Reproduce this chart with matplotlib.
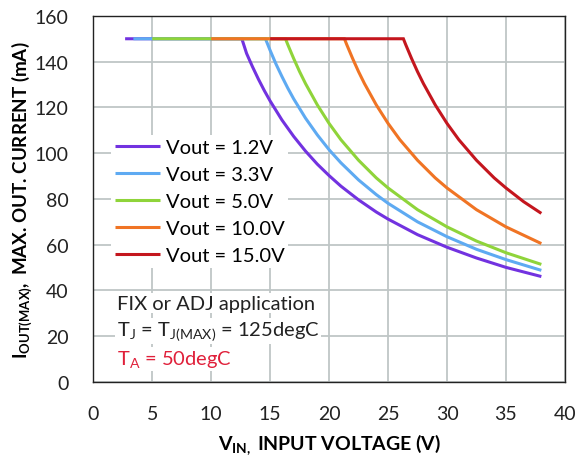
import matplotlib
matplotlib.use("Agg")
import matplotlib.pyplot as plt

plt.rcParams['font.family'] = ['Lato', 'DejaVu Sans']
plt.rcParams['mathtext.fontset'] = 'custom'
plt.rcParams['mathtext.rm'] = 'Lato'
plt.rcParams['mathtext.it'] = 'Lato'
plt.rcParams['mathtext.bf'] = 'Lato:bold'

labels = ["Vout = 1.2V", "Vout = 3.3V", "Vout = 5.0V", "Vout = 10.0V", "Vout = 15.0V"]
colors = ["#7232e0", "#5eaaf2", "#8fd43a", "#f07424", "#c4161e"]

vin_12 = [2.7, 12.6, 13.0, 13.5, 14.0, 14.5, 15.0, 16.0, 17.0, 18.0, 19.0, 20.0, 21.0,
          22.5, 24.0, 25.0, 27.5, 30.0, 32.5, 35.0, 38.0]
iout_12 = [150, 150, 143.6, 137.8, 132.4, 127.4, 122.8, 114.5, 107.3, 100.9, 95.2, 90.2, 85.6,
           79.6, 74.3, 71.2, 64.4, 58.9, 54.2, 50.1, 46.1]

vin_33 = [3.4, 14.6, 15.0, 15.5, 16.0, 16.5, 17.0, 18.0, 19.0, 20.0, 21.0, 22.5, 24.0,
          25.0, 27.5, 30.0, 32.5, 35.0, 38.0]
iout_33 = [150, 150, 144.9, 138.9, 133.5, 128.4, 123.7, 115.3, 108.0, 101.5, 95.8, 88.3, 81.9,
           78.1, 70.0, 63.5, 58.0, 53.5, 48.8]

vin_50 = [5.0, 16.3, 16.5, 17.0, 17.5, 18.0, 19.0, 20.0, 21.0, 22.5, 24.0, 25.0, 27.5,
          30.0, 32.5, 35.0, 38.0]
iout_50 = [150, 150, 147.4, 141.3, 135.6, 130.4, 121.1, 113.0, 105.9, 96.9, 89.2, 84.8, 75.3,
           67.8, 61.6, 56.5, 51.4]

vin_100 = [10.0, 21.3, 21.5, 22.0, 22.5, 23.0, 24.0, 25.0, 26.0, 27.5, 29.0, 30.0, 32.5,
           35.0, 38.0]
iout_100 = [150, 150, 147.4, 141.3, 135.6, 130.4, 121.1, 113.0, 105.9, 96.9, 89.2, 84.8, 75.3,
            67.8, 60.5]

vin_150 = [15.0, 26.3, 26.5, 27.0, 27.5, 28.0, 29.0, 30.0, 31.0, 32.5, 34.0, 35.0, 36.5, 38.0]
iout_150 = [150, 150, 147.4, 141.3, 135.6, 130.4, 121.1, 113.0, 105.9, 96.9, 89.2, 84.8, 78.8, 73.7]

series = [(vin_12, iout_12), (vin_33, iout_33), (vin_50, iout_50),
          (vin_100, iout_100), (vin_150, iout_150)]

xticks = [0, 5, 10, 15, 20, 25, 30, 35, 40]
yticks = [0, 20, 40, 60, 80, 100, 120, 140, 160]

fig = plt.figure(figsize=(5.83, 4.56), dpi=100)
ax = fig.add_axes([0.16, 0.16, 0.809, 0.803])

for (x, y), lab, c in zip(series, labels, colors):
    ax.plot(x, y, color=c, lw=2.2, label=lab, solid_capstyle='butt', solid_joinstyle='miter')

ax.set_xlim(0, 40)
ax.set_ylim(0, 160)
ax.set_xticks(xticks)
ax.set_yticks(yticks)
ax.grid(True, color="#bfc6c6", lw=1.3)
ax.set_axisbelow(True)
ax.tick_params(axis='y', length=0, labelsize=14, pad=18, colors="#222222")
ax.tick_params(axis='x', length=0, labelsize=14, pad=16.5, colors="#222222")
for s in ax.spines.values():
    s.set_color("#222222")
    s.set_linewidth(1.0)

ax.set_xlabel(r"$\mathbf{V_{IN,}}$ INPUT VOLTAGE (V)", fontsize=14, fontweight='bold', labelpad=7)
ax.set_ylabel(r"$\mathbf{I_{OUT(MAX)},}$ MAX. OUT. CURRENT (mA)", fontsize=13.5, fontweight='bold', labelpad=0)

leg = ax.legend(loc='upper left', bbox_to_anchor=(0.038, 0.676), fontsize=14.5, frameon=True,
                handlelength=2.2, labelspacing=0.50, borderpad=0.2, borderaxespad=0,
                handletextpad=0.3)
leg.get_frame().set_edgecolor('none')
leg.get_frame().set_facecolor('white')
leg.get_frame().set_alpha(1)
leg.get_frame().set_boxstyle('square', pad=0)

bb = dict(facecolor='white', edgecolor='none', pad=1)
ax.text(2.0, 34.5, "FIX or ADJ application", fontsize=14.5, va='center', ha='left', color="#222222", bbox=bb)
ax.text(2.0, 22.4, r"T$_\mathrm{J}$ = T$_\mathrm{J(MAX)}$ = 125degC", fontsize=14.5, va='center', ha='left', color="#222222", bbox=bb)
ax.text(2.0, 10.2, r"T$_\mathrm{A}$ = 50degC", fontsize=14.5, va='center', ha='left', color="#e0203a", bbox=bb)

fig.savefig("out.png", dpi=100)
